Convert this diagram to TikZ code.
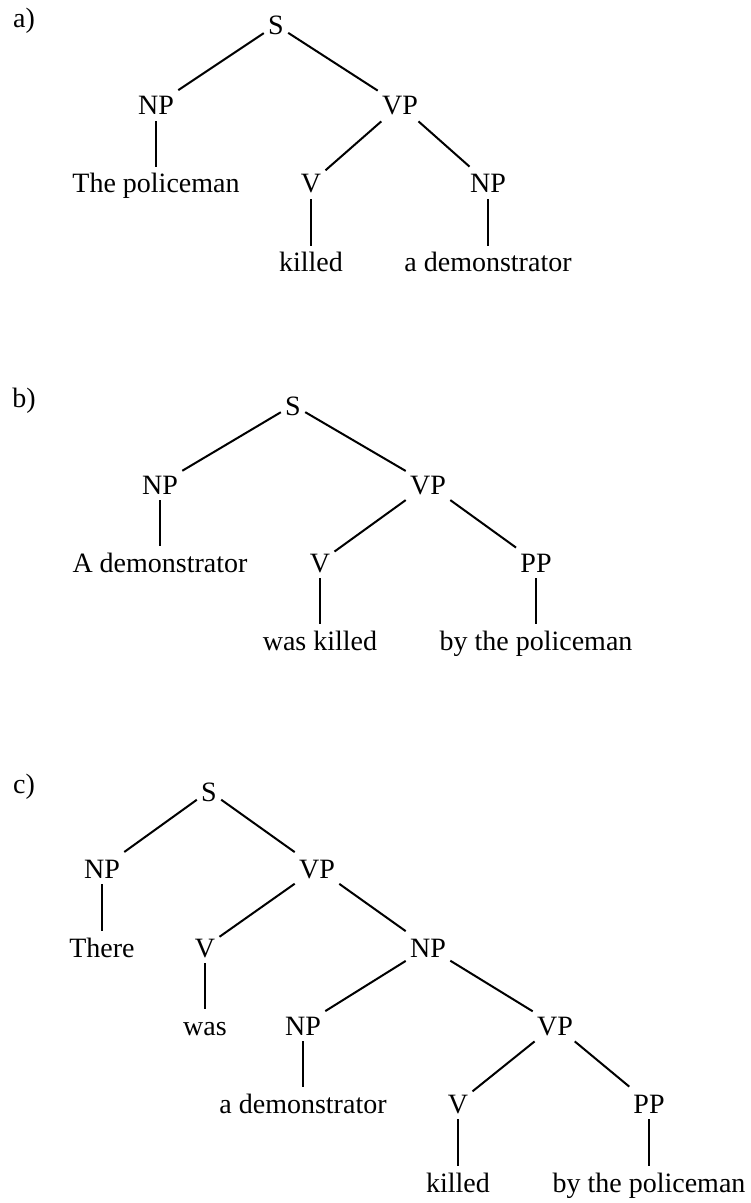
\documentclass[tikz,border=0pt]{standalone}
\usepackage{fontspec}
\setmainfont{Liberation Serif}
\usetikzlibrary{positioning}

\begin{document}
\begin{tikzpicture}[
  x=0.5pt, y=-0.5pt,
  cat/.style={
    inner xsep=2pt,
    inner ysep=0pt,
    text height=13pt,
    text depth=3pt,
    font=\fontsize{14}{16}\selectfont
  },
  branch/.style={line width=1pt}
]
  \useasboundingbox (0,0) rectangle (750,1203);

  % --- TREE A: active clause ---
  \node[cat] (alabel) at (24, 18) {a)};
  \node[cat] (aS)   at (276, 25)  {S};
  \node[cat] (aNP)  at (156, 105) {NP};
  \node[cat] (aVP)  at (400, 105) {VP};
  \node[cat] (aSubj) at (156, 183) {The policeman};
  \node[cat] (aV)   at (311, 183) {V};
  \node[cat] (aObj) at (488, 183) {NP};
  \node[cat] (aVerb) at (311, 262) {killed};
  \node[cat] (aDem) at (488, 262) {a demonstrator};

  \draw[branch] (aS) -- (aNP);
  \draw[branch] (aS) -- (aVP);
  \draw[branch] (aNP) -- (aSubj);
  \draw[branch] (aVP) -- (aV);
  \draw[branch] (aVP) -- (aObj);
  \draw[branch] (aV) -- (aVerb);
  \draw[branch] (aObj) -- (aDem);

  % --- TREE B: passive clause ---
  \node[cat] (blabel) at (24, 397) {b)};
  \node[cat] (bS)   at (293, 405) {S};
  \node[cat] (bNP)  at (160, 484) {NP};
  \node[cat] (bVP)  at (428, 484) {VP};
  \node[cat] (bSubj) at (160, 562) {A demonstrator};
  \node[cat] (bV)   at (320, 562) {V};
  \node[cat] (bPP)  at (536, 562) {PP};
  \node[cat] (bVerb) at (320, 640) {was killed};
  \node[cat] (bBy)  at (536, 640) {by the policeman};

  \draw[branch] (bS) -- (bNP);
  \draw[branch] (bS) -- (bVP);
  \draw[branch] (bNP) -- (bSubj);
  \draw[branch] (bVP) -- (bV);
  \draw[branch] (bVP) -- (bPP);
  \draw[branch] (bV) -- (bVerb);
  \draw[branch] (bPP) -- (bBy);

  % --- TREE C: existential clause ---
  \node[cat] (clabel) at (24, 783) {c)};
  \node[cat] (cS)    at (209, 791)  {S};
  \node[cat] (cNP)   at (102, 868)  {NP};
  \node[cat] (cVP)   at (317, 868)  {VP};
  \node[cat] (cThere) at (102, 947) {There};
  \node[cat] (cV)    at (205, 947)  {V};
  \node[cat] (cNPb)  at (428, 947)  {NP};
  \node[cat] (cWas)  at (205, 1025) {was};
  \node[cat] (cNPc)  at (303, 1025) {NP};
  \node[cat] (cVPb)  at (555, 1025) {VP};
  \node[cat] (cDem)  at (303, 1103) {a demonstrator};
  \node[cat] (cVb)   at (458, 1103) {V};
  \node[cat] (cPP)   at (649, 1103) {PP};
  \node[cat] (cVerb) at (458, 1182) {killed};
  \node[cat] (cBy)   at (649, 1182) {by the policeman};

  \draw[branch] (cS) -- (cNP);
  \draw[branch] (cS) -- (cVP);
  \draw[branch] (cNP) -- (cThere);
  \draw[branch] (cVP) -- (cV);
  \draw[branch] (cVP) -- (cNPb);
  \draw[branch] (cV) -- (cWas);
  \draw[branch] (cNPb) -- (cNPc);
  \draw[branch] (cNPb) -- (cVPb);
  \draw[branch] (cNPc) -- (cDem);
  \draw[branch] (cVPb) -- (cVb);
  \draw[branch] (cVPb) -- (cPP);
  \draw[branch] (cVb) -- (cVerb);
  \draw[branch] (cPP) -- (cBy);

\end{tikzpicture}
\end{document}
